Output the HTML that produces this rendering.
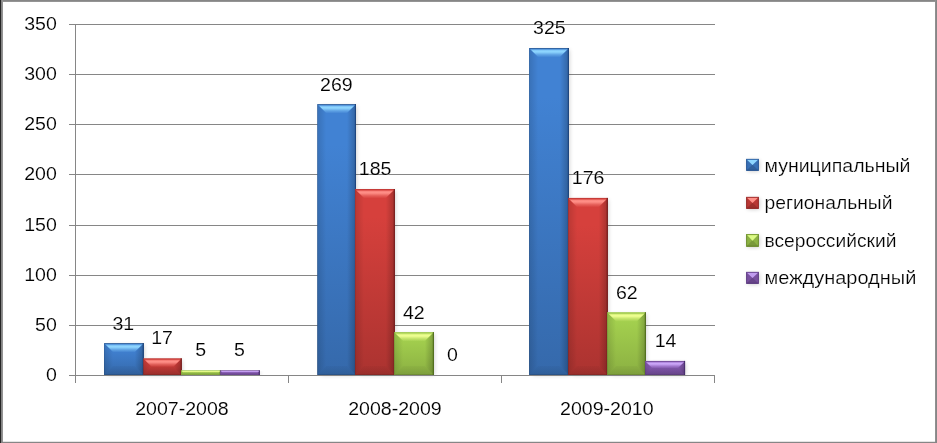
<!DOCTYPE html>
<html><head><meta charset="utf-8"><title>chart</title>
<style>html,body{margin:0;padding:0;background:#fff;}body{width:937px;height:443px;overflow:hidden;}svg{display:block;}text{font-family:"Liberation Sans",sans-serif;fill:#000;}</style>
</head><body>
<svg width="937" height="443" viewBox="0 0 937 443">
<defs>
<filter id="sh" x="-30%" y="-30%" width="160%" height="160%"><feGaussianBlur stdDeviation="1.9"/></filter>
<linearGradient id="gl" x1="0" y1="0" x2="1" y2="0"><stop offset="0" stop-color="#000" stop-opacity="0.28"/><stop offset="0.11" stop-color="#000" stop-opacity="0.12"/><stop offset="1" stop-color="#000" stop-opacity="0"/></linearGradient>
<linearGradient id="gr" x1="1" y1="0" x2="0" y2="0"><stop offset="0" stop-color="#000" stop-opacity="0.55"/><stop offset="0.16" stop-color="#000" stop-opacity="0.20"/><stop offset="1" stop-color="#000" stop-opacity="0"/></linearGradient>
<linearGradient id="gb" x1="0" y1="1" x2="0" y2="0"><stop offset="0" stop-color="#000" stop-opacity="0.30"/><stop offset="0.15" stop-color="#000" stop-opacity="0.10"/><stop offset="1" stop-color="#000" stop-opacity="0.03"/></linearGradient>
<linearGradient id="tb" x1="0" y1="0" x2="0" y2="1"><stop offset="0" stop-color="#000" stop-opacity="0.30"/><stop offset="0.11" stop-color="#000" stop-opacity="0.14"/><stop offset="0.15" stop-color="#8fd6ff" stop-opacity="0.25"/><stop offset="0.31" stop-color="#8fd6ff" stop-opacity="1"/><stop offset="0.46" stop-color="#8fd6ff" stop-opacity="0.95"/><stop offset="0.74" stop-color="#8fd6ff" stop-opacity="0.4"/><stop offset="1" stop-color="#8fd6ff" stop-opacity="0.05"/></linearGradient>
<linearGradient id="tr" x1="0" y1="0" x2="0" y2="1"><stop offset="0" stop-color="#000" stop-opacity="0.10"/><stop offset="0.11" stop-color="#000" stop-opacity="0.05"/><stop offset="0.15" stop-color="#ff9088" stop-opacity="0.25"/><stop offset="0.31" stop-color="#ff9088" stop-opacity="1"/><stop offset="0.46" stop-color="#ff9088" stop-opacity="0.95"/><stop offset="0.74" stop-color="#ff9088" stop-opacity="0.4"/><stop offset="1" stop-color="#ff9088" stop-opacity="0.05"/></linearGradient>
<linearGradient id="tg" x1="0" y1="0" x2="0" y2="1"><stop offset="0" stop-color="#000" stop-opacity="0.04"/><stop offset="0.11" stop-color="#000" stop-opacity="0.02"/><stop offset="0.15" stop-color="#eeff90" stop-opacity="0.25"/><stop offset="0.31" stop-color="#eeff90" stop-opacity="1"/><stop offset="0.46" stop-color="#eeff90" stop-opacity="0.95"/><stop offset="0.74" stop-color="#eeff90" stop-opacity="0.4"/><stop offset="1" stop-color="#eeff90" stop-opacity="0.05"/></linearGradient>
<linearGradient id="tp" x1="0" y1="0" x2="0" y2="1"><stop offset="0" stop-color="#000" stop-opacity="0.22"/><stop offset="0.11" stop-color="#000" stop-opacity="0.10"/><stop offset="0.15" stop-color="#cba6f8" stop-opacity="0.25"/><stop offset="0.31" stop-color="#cba6f8" stop-opacity="1"/><stop offset="0.46" stop-color="#cba6f8" stop-opacity="0.95"/><stop offset="0.74" stop-color="#cba6f8" stop-opacity="0.4"/><stop offset="1" stop-color="#cba6f8" stop-opacity="0.05"/></linearGradient>
<linearGradient id="mb" x1="0" y1="0" x2="0" y2="1"><stop offset="0" stop-color="#4182d3"/><stop offset="0.25" stop-color="#8fd6ff"/><stop offset="1" stop-color="#8fd6ff"/></linearGradient>
<linearGradient id="mr" x1="0" y1="0" x2="0" y2="1"><stop offset="0" stop-color="#d6403c"/><stop offset="0.25" stop-color="#ff9088"/><stop offset="1" stop-color="#ff9088"/></linearGradient>
<linearGradient id="mg" x1="0" y1="0" x2="0" y2="1"><stop offset="0" stop-color="#a3cf4e"/><stop offset="0.25" stop-color="#dcfa86"/><stop offset="1" stop-color="#dcfa86"/></linearGradient>
<linearGradient id="mp" x1="0" y1="0" x2="0" y2="1"><stop offset="0" stop-color="#8b5db9"/><stop offset="0.25" stop-color="#c09cee"/><stop offset="1" stop-color="#c09cee"/></linearGradient>
</defs>
<rect x="0" y="0" width="937" height="443" fill="#fff"/>
<line x1="69" y1="375.5" x2="715" y2="375.5" stroke="#868686" stroke-width="1"/>
<line x1="69" y1="325.5" x2="715" y2="325.5" stroke="#868686" stroke-width="1"/>
<line x1="69" y1="275.5" x2="715" y2="275.5" stroke="#868686" stroke-width="1"/>
<line x1="69" y1="225.5" x2="715" y2="225.5" stroke="#868686" stroke-width="1"/>
<line x1="69" y1="174.5" x2="715" y2="174.5" stroke="#868686" stroke-width="1"/>
<line x1="69" y1="124.5" x2="715" y2="124.5" stroke="#868686" stroke-width="1"/>
<line x1="69" y1="74.5" x2="715" y2="74.5" stroke="#868686" stroke-width="1"/>
<line x1="69" y1="24.5" x2="715" y2="24.5" stroke="#868686" stroke-width="1"/>
<line x1="75.5" y1="24" x2="75.5" y2="383" stroke="#868686" stroke-width="1"/>
<rect x="107.50" y="345.10" width="36.80" height="30.00" fill="#000" opacity="0.20" filter="url(#sh)"/>
<rect x="146.70" y="360.30" width="35.55" height="14.80" fill="#000" opacity="0.20" filter="url(#sh)"/>
<rect x="184.50" y="372.30" width="36.90" height="2.80" fill="#000" opacity="0.20" filter="url(#sh)"/>
<rect x="223.66" y="372.30" width="36.70" height="2.80" fill="#000" opacity="0.20" filter="url(#sh)"/>
<rect x="320.70" y="106.10" width="35.80" height="269.00" fill="#000" opacity="0.20" filter="url(#sh)"/>
<rect x="358.47" y="191.00" width="36.88" height="184.10" fill="#000" opacity="0.20" filter="url(#sh)"/>
<rect x="397.54" y="334.10" width="36.86" height="41.00" fill="#000" opacity="0.20" filter="url(#sh)"/>
<rect x="532.54" y="50.00" width="36.86" height="325.10" fill="#000" opacity="0.20" filter="url(#sh)"/>
<rect x="571.57" y="199.90" width="36.73" height="175.20" fill="#000" opacity="0.20" filter="url(#sh)"/>
<rect x="610.54" y="314.20" width="35.86" height="60.90" fill="#000" opacity="0.20" filter="url(#sh)"/>
<rect x="648.54" y="362.90" width="37.02" height="12.20" fill="#000" opacity="0.20" filter="url(#sh)"/>
<linearGradient id="f1" x1="0" y1="0" x2="0" y2="1"><stop offset="0" stop-color="#4182d3"/><stop offset="0.15" stop-color="#4182d3"/><stop offset="1" stop-color="#3569ab"/></linearGradient>
<rect x="104.00" y="343.10" width="39.80" height="32.00" fill="url(#f1)"/>
<polygon points="104.00,343.10 113.00,352.10 113.00,366.10 104.00,375.10" fill="url(#gl)"/>
<polygon points="143.80,343.10 134.80,352.10 134.80,366.10 143.80,375.10" fill="url(#gr)"/>
<rect x="142.70" y="343.10" width="1.1" height="32.00" fill="#1d4680" opacity="0.95"/>
<polygon points="104.00,375.10 143.80,375.10 134.80,366.10 113.00,366.10" fill="url(#gb)"/>
<polygon points="104.00,343.10 143.80,343.10 134.80,352.10 113.00,352.10" fill="url(#tb)"/>
<linearGradient id="f2" x1="0" y1="0" x2="0" y2="1"><stop offset="0" stop-color="#d6403c"/><stop offset="0.15" stop-color="#d6403c"/><stop offset="1" stop-color="#ab3330"/></linearGradient>
<rect x="143.20" y="358.30" width="38.55" height="16.80" fill="url(#f2)"/>
<polygon points="143.20,358.30 151.60,366.70 151.60,366.70 143.20,375.10" fill="url(#gl)"/>
<polygon points="181.75,358.30 173.35,366.70 173.35,366.70 181.75,375.10" fill="url(#gr)"/>
<rect x="180.65" y="358.30" width="1.1" height="16.80" fill="#7a1f1f" opacity="0.95"/>
<polygon points="143.20,375.10 181.75,375.10 173.35,366.70 151.60,366.70" fill="url(#gb)"/>
<polygon points="143.20,358.30 181.75,358.30 173.35,366.70 151.60,366.70" fill="url(#tr)"/>
<linearGradient id="f3" x1="0" y1="0" x2="0" y2="1"><stop offset="0" stop-color="#a3cf4e"/><stop offset="0.15" stop-color="#a3cf4e"/><stop offset="1" stop-color="#8bb042"/></linearGradient>
<rect x="181.00" y="370.30" width="39.90" height="4.80" fill="url(#f3)"/>
<polygon points="181.00,370.30 183.40,372.70 183.40,372.70 181.00,375.10" fill="url(#gl)"/>
<polygon points="220.90,370.30 218.50,372.70 218.50,372.70 220.90,375.10" fill="url(#gr)"/>
<rect x="219.80" y="370.30" width="1.1" height="4.80" fill="#52701c" opacity="0.95"/>
<polygon points="181.00,375.10 220.90,375.10 218.50,372.70 183.40,372.70" fill="url(#gb)"/>
<polygon points="181.00,370.30 220.90,370.30 218.50,372.70 183.40,372.70" fill="url(#tg)"/>
<linearGradient id="f4" x1="0" y1="0" x2="0" y2="1"><stop offset="0" stop-color="#8b5db9"/><stop offset="0.15" stop-color="#8b5db9"/><stop offset="1" stop-color="#724c98"/></linearGradient>
<rect x="220.16" y="370.30" width="39.70" height="4.80" fill="url(#f4)"/>
<polygon points="220.16,370.30 222.56,372.70 222.56,372.70 220.16,375.10" fill="url(#gl)"/>
<polygon points="259.86,370.30 257.46,372.70 257.46,372.70 259.86,375.10" fill="url(#gr)"/>
<rect x="258.76" y="370.30" width="1.1" height="4.80" fill="#4a2f70" opacity="0.95"/>
<polygon points="220.16,375.10 259.86,375.10 257.46,372.70 222.56,372.70" fill="url(#gb)"/>
<polygon points="220.16,370.30 259.86,370.30 257.46,372.70 222.56,372.70" fill="url(#tp)"/>
<linearGradient id="f5" x1="0" y1="0" x2="0" y2="1"><stop offset="0" stop-color="#4182d3"/><stop offset="0.15" stop-color="#4182d3"/><stop offset="1" stop-color="#3569ab"/></linearGradient>
<rect x="317.20" y="104.10" width="38.80" height="271.00" fill="url(#f5)"/>
<polygon points="317.20,104.10 326.20,113.10 326.20,366.10 317.20,375.10" fill="url(#gl)"/>
<polygon points="356.00,104.10 347.00,113.10 347.00,366.10 356.00,375.10" fill="url(#gr)"/>
<rect x="354.90" y="104.10" width="1.1" height="271.00" fill="#1d4680" opacity="0.95"/>
<polygon points="317.20,375.10 356.00,375.10 347.00,366.10 326.20,366.10" fill="url(#gb)"/>
<polygon points="317.20,104.10 356.00,104.10 347.00,113.10 326.20,113.10" fill="url(#tb)"/>
<linearGradient id="f6" x1="0" y1="0" x2="0" y2="1"><stop offset="0" stop-color="#d6403c"/><stop offset="0.15" stop-color="#d6403c"/><stop offset="1" stop-color="#ab3330"/></linearGradient>
<rect x="354.97" y="189.00" width="39.88" height="186.10" fill="url(#f6)"/>
<polygon points="354.97,189.00 363.97,198.00 363.97,366.10 354.97,375.10" fill="url(#gl)"/>
<polygon points="394.85,189.00 385.85,198.00 385.85,366.10 394.85,375.10" fill="url(#gr)"/>
<rect x="393.75" y="189.00" width="1.1" height="186.10" fill="#7a1f1f" opacity="0.95"/>
<polygon points="354.97,375.10 394.85,375.10 385.85,366.10 363.97,366.10" fill="url(#gb)"/>
<polygon points="354.97,189.00 394.85,189.00 385.85,198.00 363.97,198.00" fill="url(#tr)"/>
<linearGradient id="f7" x1="0" y1="0" x2="0" y2="1"><stop offset="0" stop-color="#a3cf4e"/><stop offset="0.15" stop-color="#a3cf4e"/><stop offset="1" stop-color="#8bb042"/></linearGradient>
<rect x="394.04" y="332.10" width="39.86" height="43.00" fill="url(#f7)"/>
<polygon points="394.04,332.10 403.04,341.10 403.04,366.10 394.04,375.10" fill="url(#gl)"/>
<polygon points="433.90,332.10 424.90,341.10 424.90,366.10 433.90,375.10" fill="url(#gr)"/>
<rect x="432.80" y="332.10" width="1.1" height="43.00" fill="#52701c" opacity="0.95"/>
<polygon points="394.04,375.10 433.90,375.10 424.90,366.10 403.04,366.10" fill="url(#gb)"/>
<polygon points="394.04,332.10 433.90,332.10 424.90,341.10 403.04,341.10" fill="url(#tg)"/>
<linearGradient id="f8" x1="0" y1="0" x2="0" y2="1"><stop offset="0" stop-color="#4182d3"/><stop offset="0.15" stop-color="#4182d3"/><stop offset="1" stop-color="#3569ab"/></linearGradient>
<rect x="529.04" y="48.00" width="39.86" height="327.10" fill="url(#f8)"/>
<polygon points="529.04,48.00 538.04,57.00 538.04,366.10 529.04,375.10" fill="url(#gl)"/>
<polygon points="568.90,48.00 559.90,57.00 559.90,366.10 568.90,375.10" fill="url(#gr)"/>
<rect x="567.80" y="48.00" width="1.1" height="327.10" fill="#1d4680" opacity="0.95"/>
<polygon points="529.04,375.10 568.90,375.10 559.90,366.10 538.04,366.10" fill="url(#gb)"/>
<polygon points="529.04,48.00 568.90,48.00 559.90,57.00 538.04,57.00" fill="url(#tb)"/>
<linearGradient id="f9" x1="0" y1="0" x2="0" y2="1"><stop offset="0" stop-color="#d6403c"/><stop offset="0.15" stop-color="#d6403c"/><stop offset="1" stop-color="#ab3330"/></linearGradient>
<rect x="568.07" y="197.90" width="39.73" height="177.20" fill="url(#f9)"/>
<polygon points="568.07,197.90 577.07,206.90 577.07,366.10 568.07,375.10" fill="url(#gl)"/>
<polygon points="607.80,197.90 598.80,206.90 598.80,366.10 607.80,375.10" fill="url(#gr)"/>
<rect x="606.70" y="197.90" width="1.1" height="177.20" fill="#7a1f1f" opacity="0.95"/>
<polygon points="568.07,375.10 607.80,375.10 598.80,366.10 577.07,366.10" fill="url(#gb)"/>
<polygon points="568.07,197.90 607.80,197.90 598.80,206.90 577.07,206.90" fill="url(#tr)"/>
<linearGradient id="f10" x1="0" y1="0" x2="0" y2="1"><stop offset="0" stop-color="#a3cf4e"/><stop offset="0.15" stop-color="#a3cf4e"/><stop offset="1" stop-color="#8bb042"/></linearGradient>
<rect x="607.04" y="312.20" width="38.86" height="62.90" fill="url(#f10)"/>
<polygon points="607.04,312.20 616.04,321.20 616.04,366.10 607.04,375.10" fill="url(#gl)"/>
<polygon points="645.90,312.20 636.90,321.20 636.90,366.10 645.90,375.10" fill="url(#gr)"/>
<rect x="644.80" y="312.20" width="1.1" height="62.90" fill="#52701c" opacity="0.95"/>
<polygon points="607.04,375.10 645.90,375.10 636.90,366.10 616.04,366.10" fill="url(#gb)"/>
<polygon points="607.04,312.20 645.90,312.20 636.90,321.20 616.04,321.20" fill="url(#tg)"/>
<linearGradient id="f11" x1="0" y1="0" x2="0" y2="1"><stop offset="0" stop-color="#8b5db9"/><stop offset="0.15" stop-color="#8b5db9"/><stop offset="1" stop-color="#724c98"/></linearGradient>
<rect x="645.04" y="360.90" width="40.02" height="14.20" fill="url(#f11)"/>
<polygon points="645.04,360.90 652.14,368.00 652.14,368.00 645.04,375.10" fill="url(#gl)"/>
<polygon points="685.06,360.90 677.96,368.00 677.96,368.00 685.06,375.10" fill="url(#gr)"/>
<rect x="683.96" y="360.90" width="1.1" height="14.20" fill="#4a2f70" opacity="0.95"/>
<polygon points="645.04,375.10 685.06,375.10 677.96,368.00 652.14,368.00" fill="url(#gb)"/>
<polygon points="645.04,360.90 685.06,360.90 677.96,368.00 652.14,368.00" fill="url(#tp)"/>
<line x1="69" y1="375.5" x2="715" y2="375.5" stroke="#868686" stroke-width="1"/>
<line x1="288.5" y1="375" x2="288.5" y2="383" stroke="#868686" stroke-width="1"/>
<line x1="501.5" y1="375" x2="501.5" y2="383" stroke="#868686" stroke-width="1"/>
<line x1="714.5" y1="375" x2="714.5" y2="383" stroke="#868686" stroke-width="1"/>
<rect x="747.6" y="160.4" width="11.8" height="10.8" fill="#000" opacity="0.22" filter="url(#sh)"/>
<rect x="746.10" y="158.90" width="12.80" height="11.80" fill="#3870b5"/>
<polygon points="746.10,170.70 758.90,170.70 752.50,164.80" fill="#30609c"/>
<polygon points="746.10,158.90 758.90,158.90 752.50,165.10" fill="url(#mb)"/>
<rect x="746.60" y="159.40" width="11.80" height="10.80" fill="none" stroke="#1d4680" stroke-opacity="0.55" stroke-width="1"/>
<rect x="747.6" y="198.4" width="11.8" height="10.8" fill="#000" opacity="0.22" filter="url(#sh)"/>
<rect x="746.10" y="196.90" width="12.80" height="11.80" fill="#b83734"/>
<polygon points="746.10,208.70 758.90,208.70 752.50,202.80" fill="#9e2f2c"/>
<polygon points="746.10,196.90 758.90,196.90 752.50,203.10" fill="url(#mr)"/>
<rect x="746.60" y="197.40" width="11.80" height="10.80" fill="none" stroke="#7a1f1f" stroke-opacity="0.55" stroke-width="1"/>
<rect x="747.6" y="235.6" width="11.8" height="11.6" fill="#000" opacity="0.22" filter="url(#sh)"/>
<rect x="746.10" y="234.05" width="12.80" height="12.60" fill="#8cb243"/>
<polygon points="746.10,246.65 758.90,246.65 752.50,240.35" fill="#79993a"/>
<polygon points="746.10,234.05 758.90,234.05 752.50,240.65" fill="url(#mg)"/>
<rect x="746.60" y="234.55" width="11.80" height="11.60" fill="none" stroke="#52701c" stroke-opacity="0.55" stroke-width="1"/>
<rect x="747.6" y="273.4" width="11.8" height="10.8" fill="#000" opacity="0.22" filter="url(#sh)"/>
<rect x="746.10" y="271.90" width="12.80" height="11.80" fill="#78509f"/>
<polygon points="746.10,283.70 758.90,283.70 752.50,277.80" fill="#674589"/>
<polygon points="746.10,271.90 758.90,271.90 752.50,278.10" fill="url(#mp)"/>
<rect x="746.60" y="272.40" width="11.80" height="10.80" fill="none" stroke="#4a2f70" stroke-opacity="0.55" stroke-width="1"/>
<g opacity="0.999" stroke="#fff" stroke-width="0.12" stroke-linejoin="round">
<text x="56.8" y="381.1" font-size="19" text-anchor="end" transform="translate(56.8 0) scale(1.03 1) translate(-56.8 0)">0</text>
<text x="56.8" y="331.1" font-size="19" text-anchor="end" transform="translate(56.8 0) scale(1.03 1) translate(-56.8 0)">50</text>
<text x="56.8" y="281.1" font-size="19" text-anchor="end" transform="translate(56.8 0) scale(1.03 1) translate(-56.8 0)">100</text>
<text x="56.8" y="231.1" font-size="19" text-anchor="end" transform="translate(56.8 0) scale(1.03 1) translate(-56.8 0)">150</text>
<text x="56.8" y="180.1" font-size="19" text-anchor="end" transform="translate(56.8 0) scale(1.03 1) translate(-56.8 0)">200</text>
<text x="56.8" y="130.1" font-size="19" text-anchor="end" transform="translate(56.8 0) scale(1.03 1) translate(-56.8 0)">250</text>
<text x="56.8" y="80.1" font-size="19" text-anchor="end" transform="translate(56.8 0) scale(1.03 1) translate(-56.8 0)">300</text>
<text x="56.8" y="30.1" font-size="19" text-anchor="end" transform="translate(56.8 0) scale(1.03 1) translate(-56.8 0)">350</text>
<text x="123.36" y="329.71" font-size="19" text-anchor="middle" transform="translate(123.36 0) scale(1.030 1) translate(-123.36 0)">31</text>
<text x="162.09" y="343.75" font-size="19" text-anchor="middle" transform="translate(162.09 0) scale(1.030 1) translate(-162.09 0)">17</text>
<text x="200.82" y="355.79" font-size="19" text-anchor="middle" transform="translate(200.82 0) scale(1.030 1) translate(-200.82 0)">5</text>
<text x="239.55" y="355.79" font-size="19" text-anchor="middle" transform="translate(239.55 0) scale(1.030 1) translate(-239.55 0)">5</text>
<text x="336.36" y="91.03" font-size="19" text-anchor="middle" transform="translate(336.36 0) scale(1.030 1) translate(-336.36 0)">269</text>
<text x="375.09" y="175.27" font-size="19" text-anchor="middle" transform="translate(375.09 0) scale(1.030 1) translate(-375.09 0)">185</text>
<text x="413.82" y="318.68" font-size="19" text-anchor="middle" transform="translate(413.82 0) scale(1.030 1) translate(-413.82 0)">42</text>
<text x="452.55" y="360.80" font-size="19" text-anchor="middle" transform="translate(452.55 0) scale(1.030 1) translate(-452.55 0)">0</text>
<text x="549.36" y="33.67" font-size="19" text-anchor="middle" transform="translate(549.36 0) scale(1.030 1) translate(-549.36 0)">325</text>
<text x="588.09" y="184.00" font-size="19" text-anchor="middle" transform="translate(588.09 0) scale(1.030 1) translate(-588.09 0)">176</text>
<text x="626.82" y="298.62" font-size="19" text-anchor="middle" transform="translate(626.82 0) scale(1.030 1) translate(-626.82 0)">62</text>
<text x="665.55" y="346.76" font-size="19" text-anchor="middle" transform="translate(665.55 0) scale(1.030 1) translate(-665.55 0)">14</text>
<text x="182.00" y="415" font-size="19" text-anchor="middle" transform="translate(182.00 0) scale(1.030 1) translate(-182.00 0)">2007-2008</text>
<text x="395.00" y="415" font-size="19" text-anchor="middle" transform="translate(395.00 0) scale(1.030 1) translate(-395.00 0)">2008-2009</text>
<text x="606.80" y="415" font-size="19" text-anchor="middle" transform="translate(606.80 0) scale(1.030 1) translate(-606.80 0)">2009-2010</text>
<text stroke-width="0.22" x="764.5" y="171.80" font-size="19" textLength="146.0" lengthAdjust="spacingAndGlyphs">муниципальный</text>
<text stroke-width="0.22" x="764.5" y="209.05" font-size="19" textLength="128.0" lengthAdjust="spacingAndGlyphs">региональный</text>
<text stroke-width="0.22" x="764.5" y="246.60" font-size="19" textLength="132.0" lengthAdjust="spacingAndGlyphs">всероссийский</text>
<text stroke-width="0.22" x="764.5" y="284.20" font-size="19" textLength="151.8" lengthAdjust="spacingAndGlyphs">международный</text>
</g>
<rect x="0" y="0" width="937" height="1" fill="#868686"/>
<rect x="0" y="1" width="937" height="1" fill="#949494"/>
<rect x="0" y="0" width="2" height="443" fill="#868686"/>
<rect x="2" y="0" width="1" height="443" fill="#939393"/>
<rect x="0" y="0" width="1" height="443" fill="#262626"/>
<rect x="935" y="0" width="1" height="443" fill="#909090"/>
<rect x="936" y="0" width="1" height="443" fill="#868686"/>
<rect x="3" y="441" width="932" height="1" fill="#e4e4e4"/>
<rect x="0" y="442" width="937" height="1" fill="#868686"/>
<rect x="0" y="441" width="1" height="2" fill="#262626"/>
</svg></body></html>
